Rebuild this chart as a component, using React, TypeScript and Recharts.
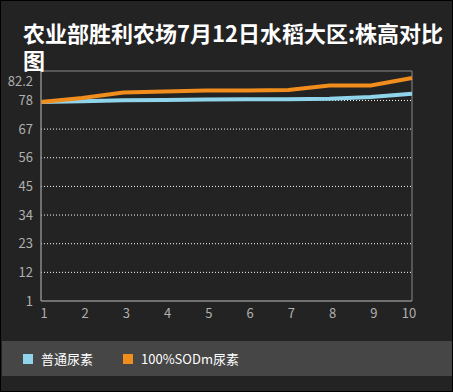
import React from "react";
import { LineChart, Line, XAxis, YAxis, ReferenceLine, ReferenceArea } from "recharts";

const categories = ["1", "2", "3", "4", "5", "6", "7", "8", "9", "10"];
const seriesNormal = [77.4, 77.7, 78.1, 78.2, 78.4, 78.5, 78.5, 78.6, 79.3, 80.6];
const seriesSOD = [77.4, 78.9, 81.0, 81.4, 81.8, 81.8, 82.0, 83.7, 83.7, 86.6];
const yTicks = [1, 12, 23, 34, 45, 56, 67, 78, 82.2];
const gridTicks = [12, 23, 34, 45, 56, 67, 78];
const seriesNames = ["普通尿素", "100%SODm尿素"];
const title = "农业部胜利农场7月12日水稻大区:株高对比图";

const data = categories.map((c, i) => ({ x: c, a: seriesNormal[i], b: seriesSOD[i] }));

const BLUE = "#8fd4ea";
const ORANGE = "#f18d1d";
const FONT = "'Noto Sans CJK SC', 'Noto Sans', sans-serif";

const YTick = (props: any) => {
  const { x, y, payload } = props;
  const shift = payload.value === 82.2 ? -8 : 0;
  return (
    <text x={x} y={y + shift} dy="0.355em" textAnchor="end" fill="#b0b0b0" fontSize={13} fontFamily={FONT}>
      {payload.value}
    </text>
  );
};

const XTick = (props: any) => {
  const { x, y, payload } = props;
  const dx = String(payload.value).length > 1 ? -3 : 3;
  return (
    <text x={x + dx} y={y} dy="0.71em" textAnchor="middle" fill="#b0b0b0" fontSize={13} fontFamily={FONT}>
      {payload.value}
    </text>
  );
};

export default function App() {
  return (
    <div
      style={{
        position: "absolute",
        left: 0,
        top: 0,
        width: 453,
        height: 392,
        background: "#232323",
        boxSizing: "border-box",
        border: "1px solid #000",
        overflow: "hidden",
        fontFamily: FONT,
      }}
    >
      <div style={{ position: "absolute", left: -1, top: -1 }}>
        <LineChart width={453} height={392} data={data} margin={{ top: 71, right: 41, left: 0, bottom: 0 }}>
          <XAxis
            dataKey="x"
            height={91}
            axisLine={{ stroke: "#8a8a8a" }}
            tickLine={false}
            tick={<XTick />}
            interval={0}
          />
          <YAxis
            width={41}
            domain={[1, 89.3]}
            ticks={yTicks}
            type="number"
            interval={0}
            axisLine={{ stroke: "#8a8a8a" }}
            tickLine={false}
            tick={<YTick />}
            allowDataOverflow
          />
          {gridTicks.map((t) => (
            <ReferenceLine key={t} y={t} stroke="#ffffff" strokeDasharray="1 2" strokeWidth={1} />
          ))}
          <ReferenceArea x1="1" x2="10" y1={1} y2={89.3} stroke="#8a8a8a" strokeWidth={1} fill="none" fillOpacity={0} />
          <Line dataKey="a" stroke={BLUE} strokeWidth={4} dot={false} isAnimationActive={false} />
          <Line dataKey="b" stroke={ORANGE} strokeWidth={4} dot={false} isAnimationActive={false} />
        </LineChart>
      </div>
      <div
        style={{
          position: "absolute",
          left: 22,
          top: 18,
          width: 426,
          color: "#ffffff",
          fontSize: 22,
          fontWeight: "bold",
          lineHeight: "27px",
        }}
      >
        {title}
      </div>
      <div
        style={{
          position: "absolute",
          left: 1,
          top: 340,
          width: 451,
          height: 35,
          background: "#464646",
        }}
      >
        <div style={{ position: "absolute", left: 21, top: 13, width: 10, height: 10, background: BLUE }} />
        <div style={{ position: "absolute", left: 39, top: 8, color: "#ffffff", fontSize: 13, lineHeight: "20px" }}>
          {seriesNames[0]}
        </div>
        <div style={{ position: "absolute", left: 121, top: 13, width: 10, height: 10, background: ORANGE }} />
        <div style={{ position: "absolute", left: 139, top: 8, color: "#ffffff", fontSize: 13, lineHeight: "20px" }}>
          {seriesNames[1]}
        </div>
      </div>
    </div>
  );
}
